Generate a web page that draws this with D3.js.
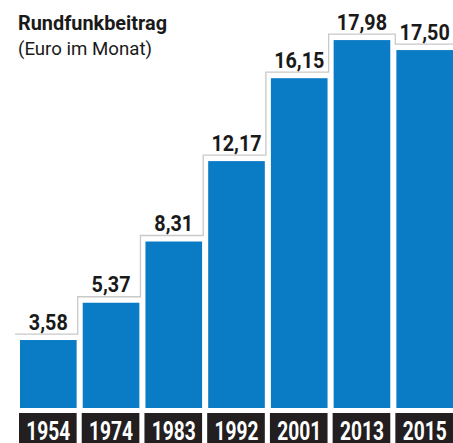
<!DOCTYPE html>
<html><head><meta charset="utf-8">
<script src="https://cdn.jsdelivr.net/npm/d3@7/dist/d3.min.js"></script>
<style>html,body{margin:0;padding:0;background:#fff;}svg{display:block;}</style>
</head><body>
<script>
const years = ["1954","1974","1983","1992","2001","2013","2015"];
const values = [3.58, 5.37, 8.31, 12.17, 16.15, 17.98, 17.50];
const valueLabels = ["3,58","5,37","8,31","12,17","16,15","17,98","17,50"];
const title = "Rundfunkbeitrag";
const subtitle = "(Euro im Monat)";

const W = 453, H = 443;
const svg = d3.select("body").append("svg").attr("width", W).attr("height", H);
const font = "Roboto, 'Liberation Sans', sans-serif";

const x = d3.scaleBand().domain(years).range([20, 453]).paddingInner(0.097).paddingOuter(0);
const y = d3.scaleLinear().domain([0, 20]).range([414.6, -2]);
const barBottom = 408;
const off = 5, offTop = 6;

// staircase outline (union of bars expanded)
const pts = [];
years.forEach((yr, i) => {
  const x0 = x(yr) - off, x1 = x(yr) + x.bandwidth() + off, t = y(values[i]) - offTop;
  if (i === 0) pts.push([x0, t]);
  else {
    const pt = y(values[i - 1]) - offTop;
    if (t < pt) { pts.push([x0, pt]); pts.push([x0, t]); }
    else { const px = x(years[i - 1]) + x.bandwidth() + off; pts.push([px, pt]); pts.push([px, t]); }
  }
  if (i === years.length - 1) { pts.push([x1, t]); pts.push([x1, H]); }
});
svg.append("path").attr("d", d3.line()(pts)).attr("fill", "none")
  .attr("stroke", "#c9c9c9").attr("stroke-width", 1.3);

svg.selectAll("rect.bar").data(years).join("rect").attr("class", "bar")
  .attr("x", d => x(d)).attr("width", x.bandwidth())
  .attr("y", (d, i) => y(values[i])).attr("height", (d, i) => barBottom - y(values[i]))
  .attr("fill", "#0a7cc6");

const digitCount = s => s.replace(/[^0-9]/g, "").length;
svg.selectAll("text.val").data(years).join("text").attr("class", "val")
  .attr("x", d => x(d) + x.bandwidth() / 2).attr("y", (d, i) => y(values[i]) - offTop - 4.5)
  .attr("text-anchor", "middle").attr("font-family", font).attr("font-weight", "bold")
  .attr("font-size", 22.5).attr("fill", "#1a1a1a")
  .attr("textLength", (d, i) => digitCount(valueLabels[i]) * 11.3 + 5)
  .attr("lengthAdjust", "spacingAndGlyphs")
  .text((d, i) => valueLabels[i]);

svg.selectAll("rect.yb").data(years).join("rect").attr("class", "yb")
  .attr("x", d => x(d) - 1).attr("width", x.bandwidth() + 1)
  .attr("y", 413).attr("height", H - 413).attr("fill", "#231f20");

svg.selectAll("text.yr").data(years).join("text").attr("class", "yr")
  .attr("x", d => x(d) + x.bandwidth() / 2).attr("y", 440)
  .attr("text-anchor", "middle").attr("font-family", font).attr("font-weight", "bold")
  .attr("font-size", 25).attr("fill", "#fff")
  .attr("textLength", 44).attr("lengthAdjust", "spacingAndGlyphs").text(d => d);

svg.append("text").attr("x", 18).attr("y", 30).attr("font-family", font)
  .attr("font-weight", "bold").attr("font-size", 21).attr("fill", "#1a1a1a")
  .attr("textLength", 149).attr("lengthAdjust", "spacingAndGlyphs").text(title);
svg.append("text").attr("x", 18).attr("y", 55).attr("font-family", font)
  .attr("font-size", 18).attr("fill", "#1a1a1a")
  .attr("textLength", 134).attr("lengthAdjust", "spacingAndGlyphs").text(subtitle);
</script>
</body></html>
